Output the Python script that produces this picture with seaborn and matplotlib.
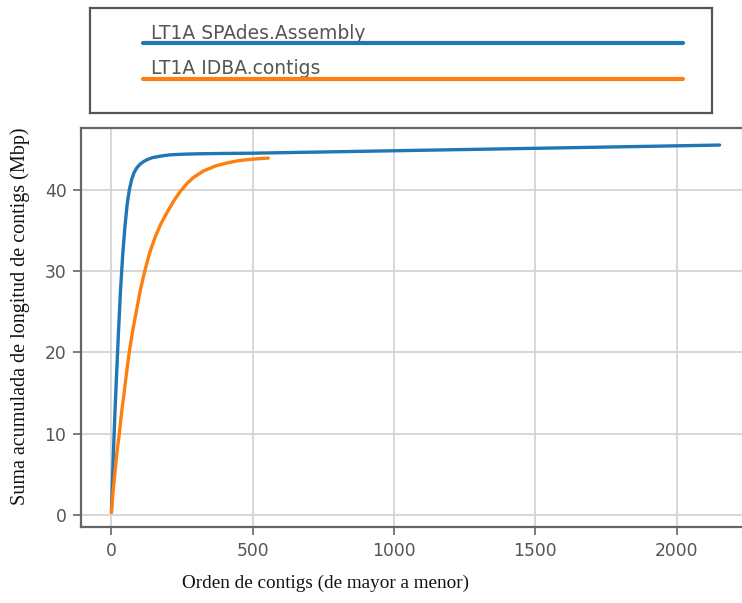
import matplotlib
matplotlib.use("Agg")
import matplotlib.pyplot as plt
import seaborn as sns
import pandas as pd

# Cumulative contig length (Mbp) against contig rank, contigs sorted longest first
spades_rank = [0, 4, 8, 13, 18, 25, 32, 40, 48, 56, 64, 72, 80, 90, 100, 113, 126, 145, 160, 185, 208, 250, 300, 400, 500, 750, 1000, 1500, 2152]
spades_mbp = [0.3, 4.5, 8.5, 13.0, 17.0, 22.5, 27.5, 32.0, 35.5, 38.3, 40.1, 41.3, 42.1, 42.7, 43.1, 43.45, 43.7, 43.95, 44.05, 44.2, 44.3, 44.37, 44.42, 44.47, 44.5, 44.65, 44.8, 45.1, 45.5]

idba_rank = [0, 5, 12, 20, 28, 36, 45, 54, 63, 75, 88, 102, 118, 135, 155, 175, 195, 220, 244, 268, 290, 325, 370, 409, 445, 480, 520, 555]
idba_mbp = [0.3, 2.5, 5.0, 7.8, 10.0, 12.6, 15.0, 17.6, 20.0, 22.6, 25.0, 27.6, 30.0, 32.2, 34.2, 35.8, 37.1, 38.6, 39.8, 40.8, 41.5, 42.3, 42.95, 43.3, 43.55, 43.7, 43.82, 43.9]

series_names = ["LT1A SPAdes.Assembly", "LT1A IDBA.contigs"]
series_colors = ["#1f77b4", "#ff7f0e"]

x_ticks = [0, 500, 1000, 1500, 2000]
y_ticks = [0, 10, 20, 30, 40]

x_label = "Orden de contigs (de mayor a menor)"
y_label = "Suma acumulada de longitud de contigs (Mbp)"

df = pd.concat([
    pd.DataFrame({"rank": spades_rank, "mbp": spades_mbp, "assembly": series_names[0]}),
    pd.DataFrame({"rank": idba_rank, "mbp": idba_mbp, "assembly": series_names[1]}),
], ignore_index=True)

sns.set_style("whitegrid")
plt.rcParams["font.family"] = ["DejaVu Sans"]

W, H = 742, 603
fig = plt.figure(figsize=(W / 100, H / 100), dpi=100)
fig.patch.set_facecolor("white")

# main axes (extends a little past the right edge of the canvas)
ax_l, ax_r, ax_t, ax_b = 81, 750, 128, 527
ax = fig.add_axes([ax_l / W, 1 - ax_b / H, (ax_r - ax_l) / W, (ax_b - ax_t) / H])

sns.lineplot(data=df, x="rank", y="mbp", hue="assembly", palette=series_colors,
             hue_order=series_names, linewidth=2.4, legend=False, ax=ax,
             estimator=None, sort=False)

ax.set_xlim(-107.6, 2259.6)
ax.set_ylim(-1.5, 47.6)
ax.set_xticks(x_ticks)
ax.set_yticks(y_ticks)
ax.grid(True, color="#d4d4d4", linewidth=1.3)
for side, sp in ax.spines.items():
    sp.set_color("#666666")
    sp.set_linewidth(1.6)
ax.tick_params(axis="both", which="major", length=5.5, width=1.2, color="#666666",
               labelcolor="#555555", labelsize=12.3, pad=5, direction="out",
               bottom=True, left=True)

ax.set_xlabel(x_label, fontsize=13.8, family=["Liberation Serif"], color="#111111")
ax.xaxis.set_label_coords((326 - ax_l) / (ax_r - ax_l), (ax_b - 583) / (ax_b - ax_t))
ax.xaxis.label.set_va("center")
ax.set_ylabel(y_label, fontsize=14.5, family=["Liberation Serif"], color="#111111")
ax.yaxis.set_label_coords((20 - ax_l) / (ax_r - ax_l), (ax_b - 316) / (ax_b - ax_t))
ax.yaxis.label.set_va("center")

# legend panel above the plot
lg_l, lg_r, lg_t, lg_b = 90, 712, 8, 113
lg = fig.add_axes([lg_l / W, 1 - lg_b / H, (lg_r - lg_l) / W, (lg_b - lg_t) / H])
lg.set_xlim(0, 1)
lg.set_ylim(0, 1)
lg.set_xticks([])
lg.set_yticks([])
lg.set_facecolor("white")
lg.grid(False)
for sp in lg.spines.values():
    sp.set_color("#555555")
    sp.set_linewidth(1.6)

line_px = [43, 79]
base_px = [39, 74]
x0 = (143 - lg_l) / (lg_r - lg_l)
x1 = (683 - lg_l) / (lg_r - lg_l)
tx = (151 - lg_l) / (lg_r - lg_l)
for name, color, lp, bp in zip(series_names, series_colors, line_px, base_px):
    yy = (lg_b - lp) / (lg_b - lg_t)
    lg.text(tx, (lg_b - bp) / (lg_b - lg_t), name, color="#555555", fontsize=13.5,
            va="baseline", ha="left", zorder=1)
    lg.plot([x0, x1], [yy, yy], color=color, linewidth=3, zorder=2)

fig.savefig("out.png", dpi=100)
